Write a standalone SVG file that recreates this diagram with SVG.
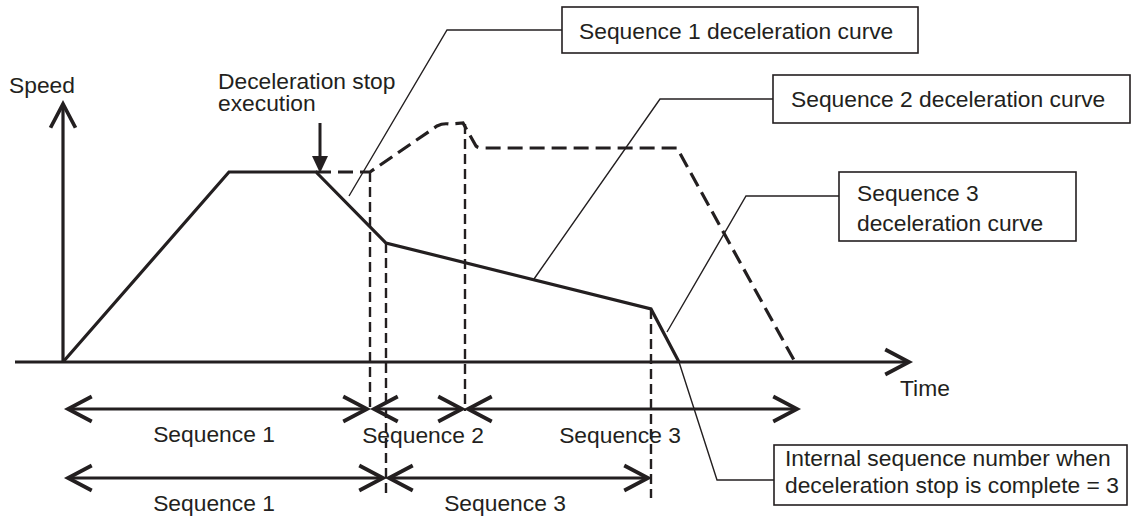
<svg xmlns="http://www.w3.org/2000/svg" width="1133" height="519" viewBox="0 0 1133 519">
<style>
text{font-family:"Liberation Sans",Arial,sans-serif;font-size:22.8px;fill:#231f20}
.thick{fill:none;stroke:#231f20;stroke-width:3.2;stroke-linejoin:miter}
.dash{fill:none;stroke:#231f20;stroke-width:3.2;stroke-dasharray:15 7}
.vdash{fill:none;stroke:#231f20;stroke-width:2.4;stroke-dasharray:10 5}
.lead{fill:none;stroke:#231f20;stroke-width:1.4}
.box{fill:#fff;stroke:#231f20;stroke-width:1.6}
.dim{fill:none;stroke:#231f20;stroke-width:3;marker-start:url(#chev);marker-end:url(#chev)}
</style>
<defs>
<marker id="chev" markerUnits="userSpaceOnUse" markerWidth="30" markerHeight="30" viewBox="-22 -12 24 24" refX="0" refY="0" orient="auto-start-reverse" overflow="visible">
<path d="M-19,-10 L0,0 L-19,10" fill="none" stroke="#231f20" stroke-width="3"/>
</marker>
</defs>
<rect width="1133" height="519" fill="#fff"/>
<g id="axes">
<path class="thick" d="M63,362 V104" marker-end="url(#chev)"/>
<path class="thick" d="M15,362 H909" marker-end="url(#chev)"/>
<text x="9" y="93">Speed</text>
<text x="900" y="396">Time</text>
</g>
<g id="connectors">
<path class="dash" d="M316,172 L370,172 L437,126 Q443,123 449,124 L463,123 L476,146 Q478,148 482,148 L677,148 L795,362"/>
<path class="vdash" d="M370,172 V411"/>
<path class="vdash" d="M386,243 V498"/>
<path class="vdash" d="M465,124 V411"/>
<path class="vdash" d="M651,309 V498"/>
<path class="lead" d="M562,30 H447 L349,196"/>
<path class="lead" d="M773,99 H660 L534,279"/>
<path class="lead" d="M839,196 H746 L667,332"/>
<path class="lead" d="M679,362 L717,480 H774"/>
</g>
<g id="speed-curve">
<path class="thick" d="M63,362 L229,172 L316,172 L386,243 L651,309 L679,362"/>
</g>
<g id="decel-stop">
<path d="M320,123 V158" stroke="#231f20" stroke-width="3" fill="none"/>
<path d="M312,156 L328,156 L320,173 Z" fill="#231f20"/>
<text x="218" y="89">Deceleration stop<tspan x="218" y="110.5">execution</tspan></text>
</g>
<g id="dims-row1">
<path class="dim" d="M68,409 H367"/>
<path class="dim" d="M374,409 H462"/>
<path class="dim" d="M468,409 H797"/>
<text x="214" y="442" text-anchor="middle">Sequence 1</text>
<text x="423" y="443" text-anchor="middle">Sequence 2</text>
<text x="620" y="443" text-anchor="middle">Sequence 3</text>
</g>
<g id="dims-row2">
<path class="dim" d="M68,478 H383"/>
<path class="dim" d="M389,478 H648"/>
<text x="214" y="511" text-anchor="middle">Sequence 1</text>
<text x="505" y="511" text-anchor="middle">Sequence 3</text>
</g>
<g id="label-seq1">
<rect class="box" x="562" y="7" width="356" height="46"/>
<text x="579" y="39">Sequence 1 deceleration curve</text>
</g>
<g id="label-seq2">
<rect class="box" x="773" y="75" width="357" height="48"/>
<text x="791" y="107">Sequence 2 deceleration curve</text>
</g>
<g id="label-seq3">
<rect class="box" x="839" y="172" width="237" height="69"/>
<text x="857" y="201">Sequence 3<tspan x="857" y="231">deceleration curve</tspan></text>
</g>
<g id="label-internal">
<rect class="box" x="774" y="445" width="353" height="60"/>
<text x="785" y="466">Internal sequence number when<tspan x="785" y="493">deceleration stop is complete = 3</tspan></text>
</g>
</svg>
